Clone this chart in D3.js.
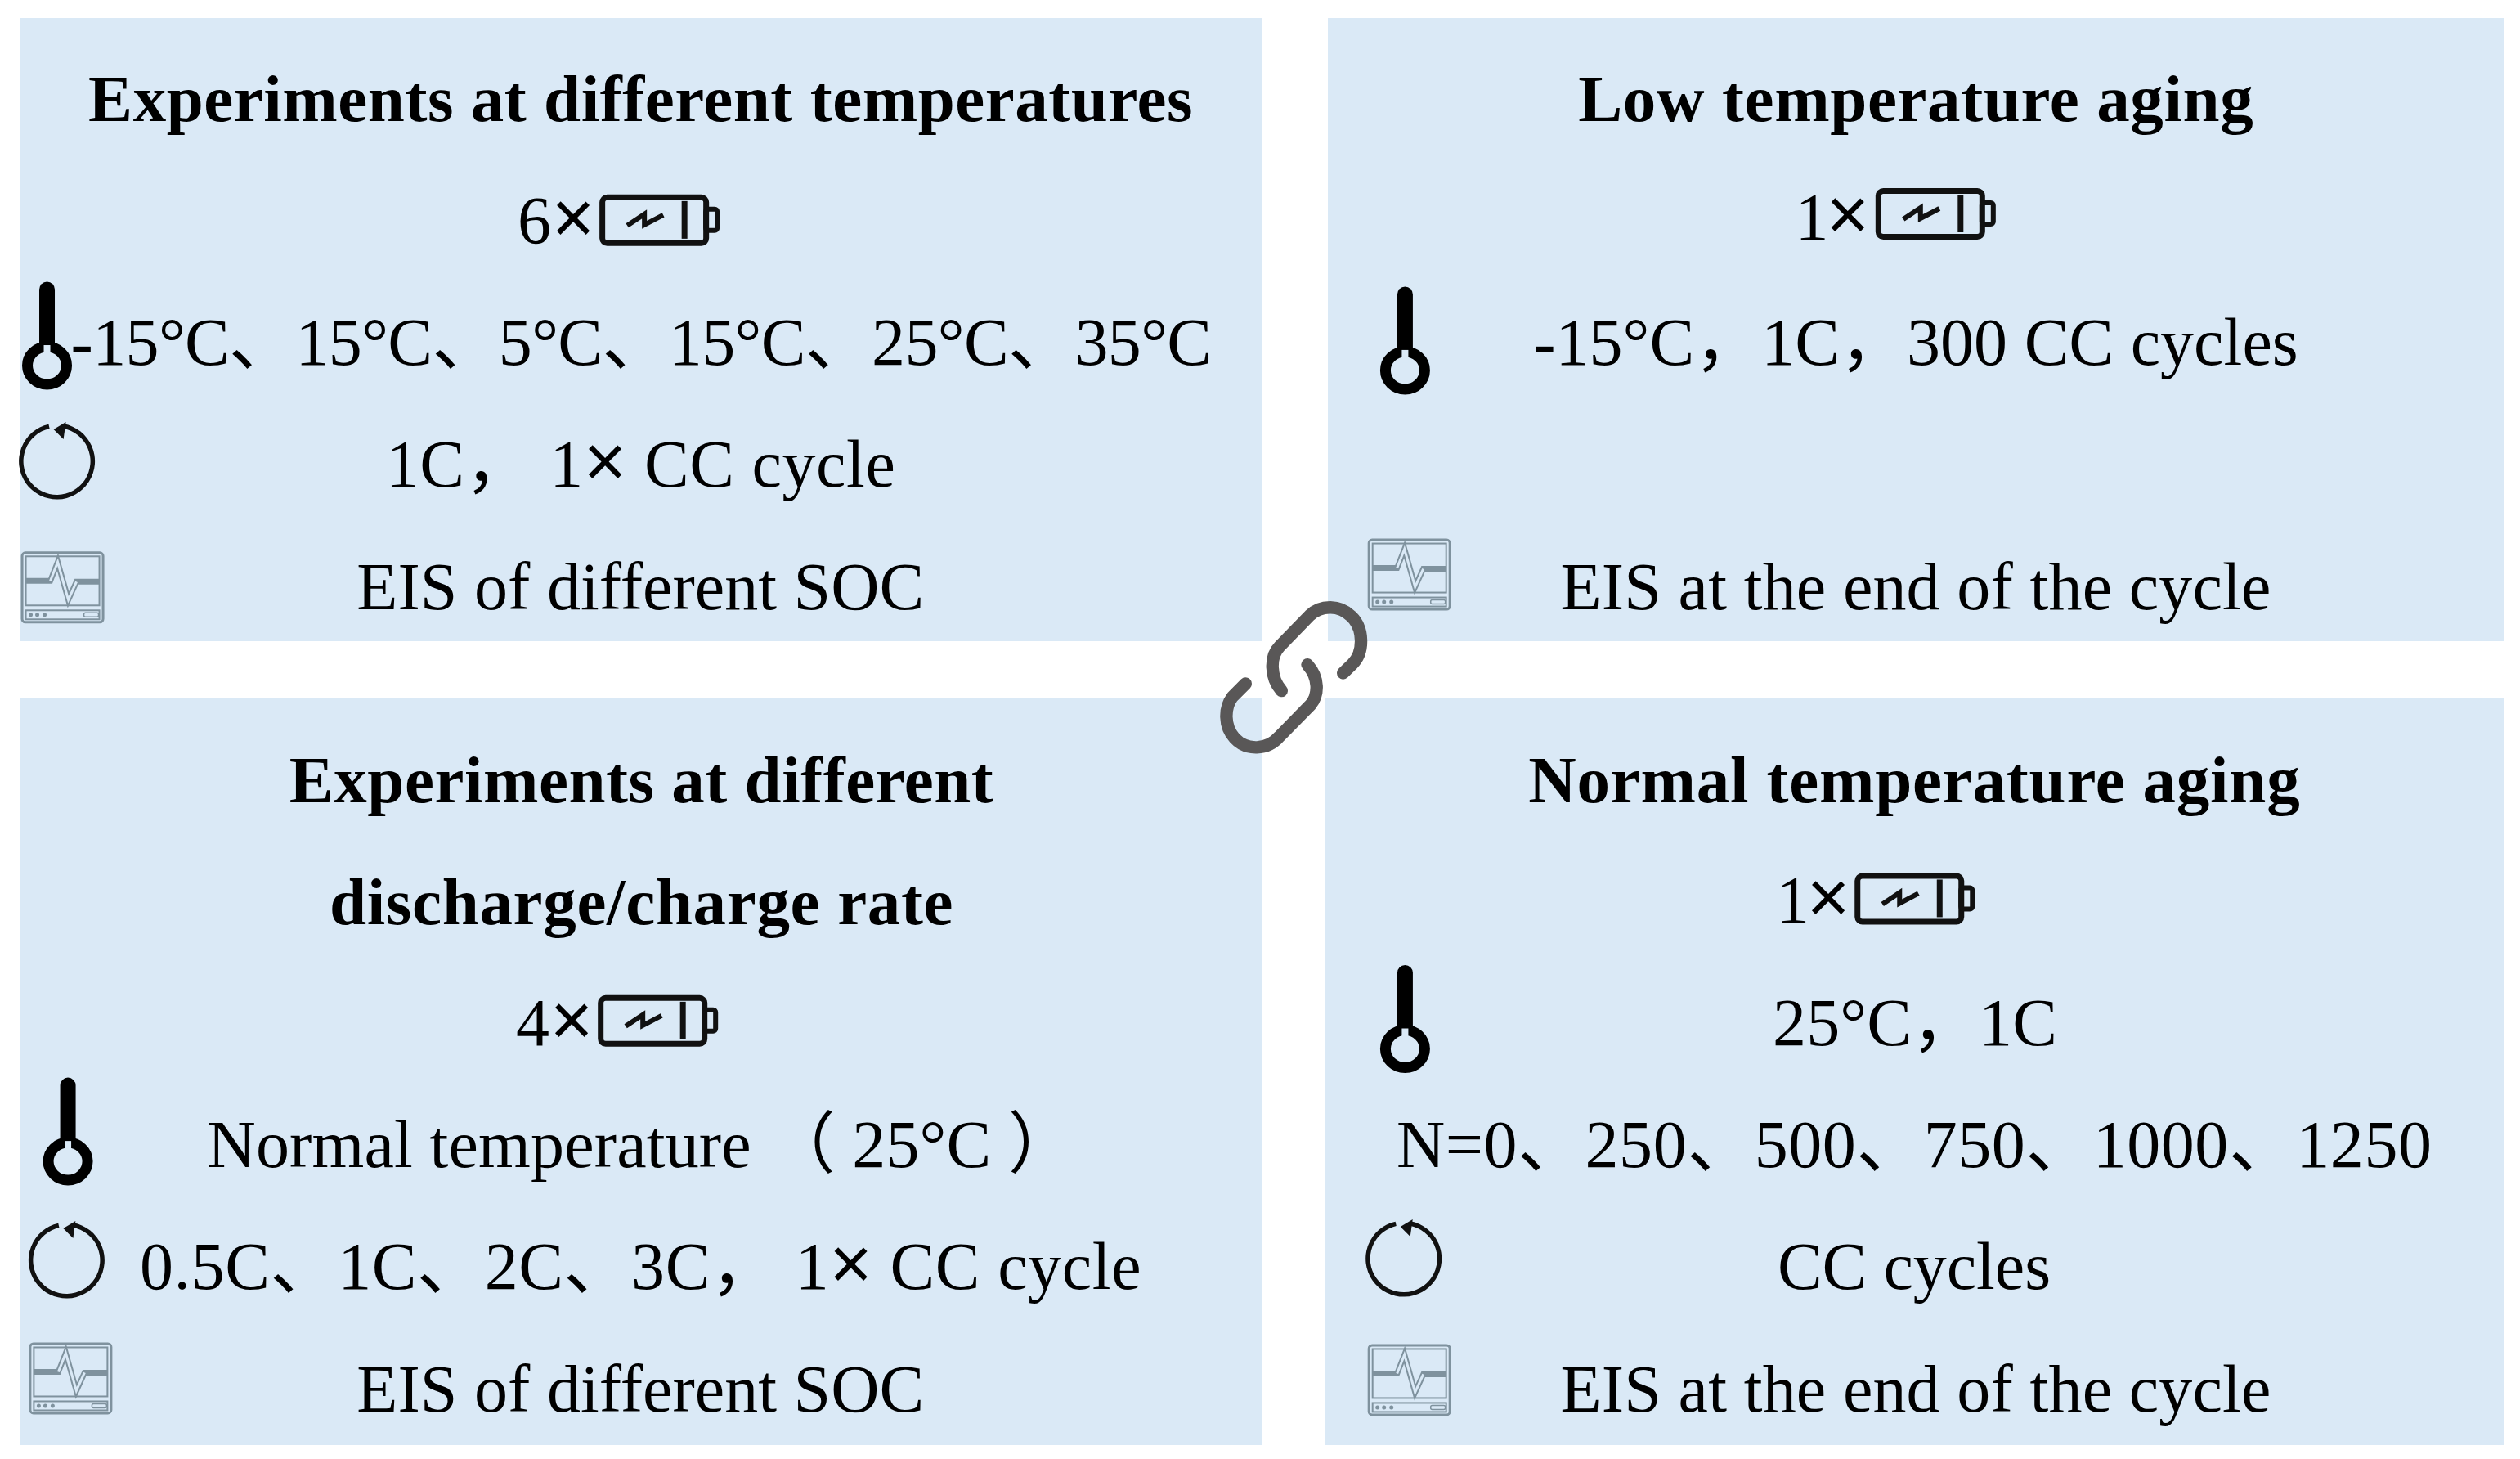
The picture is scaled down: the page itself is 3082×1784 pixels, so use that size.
<!DOCTYPE html>
<html>
<head>
<meta charset="utf-8">
<script src="https://cdn.jsdelivr.net/npm/d3@7"></script>
<style>
html, body { margin: 0; padding: 0; background: #fff; }
svg { display: block; }
text { font-family: "Liberation Serif", "Noto Sans CJK SC", serif; fill: #000; }
</style>
</head>
<body>
<div id="chart"></div>
<script>
// texts of the four boxes
var panelTitles = [
  ["Experiments at different temperatures"],
  ["Low temperature aging"],
  ["Experiments at different", "discharge/charge rate"],
  ["Normal temperature aging"]
]
var cellCounts = ["6×", "1×", "4×", "1×"]
var conditionLines = [
  ["-15°C、15°C、5°C、15°C、25°C、35°C", "1C，  1× CC cycle", "EIS of different SOC"],
  ["-15°C，1C，300 CC cycles", "EIS at the end of the cycle"],
  ["Normal temperature  （ 25°C ）", "0.5C、1C、2C、3C， 1× CC cycle", "EIS of different SOC"],
  ["25°C，1C", "N=0、250、500、750、1000、1250", "CC cycles", "EIS at the end of the cycle"]
]

var width = 3082, height = 1784
// layout is measured in the 1568 wide preview of the figure
var sx = d3.scaleLinear().domain([0, 1568]).range([0, width])
var sy = d3.scaleLinear().domain([0, 907.5]).range([0, height])

var boxes = [
  { x0: 24, x1: 1543, y0: 22, y1: 784 },
  { x0: 1624, x1: 3063, y0: 22, y1: 784 },
  { x0: 24, x1: 1543, y0: 853, y1: 1767 },
  { x0: 1621, x1: 3063, y0: 853, y1: 1767 }
]
// [left, right, baseline] per line
var titleSpans = [
  [[55, 742, 75.5]],
  [[982, 1402, 75.5]],
  [[180, 618, 499], [205, 593, 575]],
  [[951, 1431, 499]]
]
var countSpans = [[322, 370, 151], [1117, 1163, 149], [321, 369, 650], [1105, 1151, 574]]
var lineSpans = [
  [[44, 754, 227], [240, 557, 302.5], [222, 575, 379]],
  [[954, 1430, 227], [971, 1413, 379]],
  // the closing bracket is full width, its advance runs past the ink
  [[129, 669, 726], [87, 710, 801.5], [222, 575, 878]],
  [[1103, 1280, 650], [869, 1513, 726], [1106, 1276, 801.5], [971, 1413, 878]]
]
var batteries = [[373, 121], [1167, 117], [372, 619], [1154, 543]]
var thermometers = [[14, 175], [859, 178], [27, 670], [859, 600]]
var cycles = [[12, 263], [18, 760], [850, 759]]
var monitors = [[13, 343], [851, 335], [18, 835], [851, 836]]

var svg = d3.select("#chart").append("svg")
  .attr("width", width)
  .attr("height", height)

svg.selectAll("rect.box")
  .data(boxes)
  .enter().append("rect")
  .attr("class", "box")
  .attr("x", function(d) { return d.x0 })
  .attr("y", function(d) { return d.y0 })
  .attr("width", function(d) { return d.x1 - d.x0 })
  .attr("height", function(d) { return d.y1 - d.y0 })
  .style("fill", "#dae9f6")

function drawLines(lines, spans, size, weight) {
  lines.forEach(function(t, i) {
    var label = svg.append("text")
      .attr("x", sx(spans[i][0]))
      .attr("y", sy(spans[i][2]))
      .attr("textLength", sx(spans[i][1]) - sx(spans[i][0]))
      .attr("lengthAdjust", "spacing")
      .style("font-size", size + "px")
      .style("font-weight", weight)
    // the cross is a heavier sans glyph in the figure
    t.split(/(×)/).forEach(function(part) {
      var span = label.append("tspan").text(part)
      if (part == "×") span.style("font-family", "Liberation Sans").style("font-size", "90px")
    })
  })
}
panelTitles.forEach(function(t, i) { drawLines(t, titleSpans[i], 81, "bold") })
conditionLines.forEach(function(t, i) { drawLines(t, lineSpans[i], 82, "normal") })
drawLines(cellCounts, countSpans, 82, "normal")

function place(list) {
  return svg.selectAll(null)
    .data(list)
    .enter().append("g")
    .attr("transform", function(d) { return "translate(" + sx(d[0]) + "," + sy(d[1]) + ")" })
}

// battery
var bat = place(batteries)
bat.append("rect").attr("x", 3.5).attr("y", 3.5).attr("width", 127).attr("height", 56).attr("rx", 6)
  .style("fill", "none").style("stroke", "#111").style("stroke-width", 7)
bat.append("rect").attr("x", 130).attr("y", 18).attr("width", 14).attr("height", 26).attr("rx", 3)
  .style("fill", "none").style("stroke", "#111").style("stroke-width", 6)
bat.append("line").attr("x1", 104).attr("x2", 104).attr("y1", 8).attr("y2", 54)
  .style("stroke", "#111").style("stroke-width", 7)
bat.append("path").attr("d", "M34 38L55 24L55 37L78 25")
  .style("fill", "none").style("stroke", "#111").style("stroke-width", 6)

// thermometer
var thermo = place(thermometers)
thermo.append("line").attr("x1", 30).attr("x2", 30).attr("y1", 10).attr("y2", 90)
  .style("stroke", "#000").style("stroke-width", 19).style("stroke-linecap", "round")
thermo.append("ellipse").attr("cx", 30).attr("cy", 103).attr("rx", 24).attr("ry", 23)
  .style("fill", "#dae9f6").style("stroke", "#000").style("stroke-width", 13)
thermo.append("rect").attr("x", 26).attr("y", 78).attr("width", 8).attr("height", 16)
  .style("fill", "#dae9f6")

// cycle arrow
var cycleArc = d3.arc().innerRadius(41).outerRadius(46.5).startAngle(0.18).endAngle(Math.PI * 2 - 0.22)
var cyc = place(cycles)
cyc.append("path").attr("d", cycleArc()).attr("transform", "translate(46,47)").style("fill", "#111")
cyc.append("path").attr("d", "M42 8L57 -1L54 20Z").style("fill", "#111")

// EIS monitor
var mon = place(monitors)
var monColor = "#7f929e"
mon.append("rect").attr("x", 1.5).attr("y", 1.5).attr("width", 99).attr("height", 85).attr("rx", 4)
  .style("fill", "none").style("stroke", monColor).style("stroke-width", 3)
mon.append("rect").attr("x", 6).attr("y", 6).attr("width", 90).attr("height", 60)
  .style("fill", "none").style("stroke", monColor).style("stroke-width", 2)
mon.append("rect").attr("x", 6).attr("y", 72).attr("width", 90).attr("height", 11)
  .style("fill", "none").style("stroke", monColor).style("stroke-width", 2)
mon.append("path").attr("d", "M6 36H36L45 13L58 59L68 37H96")
  .style("fill", "none").style("stroke", monColor).style("stroke-width", 7)
mon.append("path").attr("d", "M36 36L45 13L58 59L68 37")
  .style("fill", "none").style("stroke", "#dae9f6").style("stroke-width", 3)
mon.selectAll("circle").data([12, 20, 29]).enter().append("circle")
  .attr("cx", function(d) { return d }).attr("cy", 77.5).attr("r", 2.5)
  .style("fill", monColor)
mon.append("rect").attr("x", 77).attr("y", 75).attr("width", 18).attr("height", 5).attr("rx", 2)
  .style("fill", "none").style("stroke", monColor).style("stroke-width", 1.5)

// chain link over the middle
var link = svg.append("g")
  .attr("transform", "translate(1450,622) scale(0.3333)")
  .style("fill", "none")
  .style("stroke", "#595757")
  .style("stroke-width", 46)
  .style("stroke-linecap", "round")
link.append("path").attr("d", "M578 603L612 570C655 528 655 440 608 395C565 352 497 352 455 392L345 505C308 542 310 620 352 668")
link.append("path").attr("d", "M447 572C490 620 490 682 458 720L345 835C300 888 222 888 180 842C140 798 142 730 172 690L220 642")
</script>
</body>
</html>
